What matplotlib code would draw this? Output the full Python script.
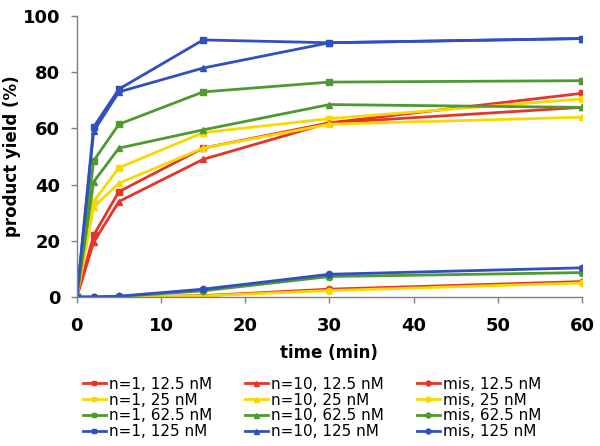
import numpy as np
import matplotlib.pyplot as plt

plt.rcParams['font.family'] = ['DejaVu Sans']

zeit = [0, 2, 5, 15, 30, 60]

konz = ["12.5 nM", "25 nM", "62.5 nM", "125 nM"]
farben = ["#e8332b", "#f7d900", "#4c9a30", "#3050c0"]

# n=1 (Quadrate)
n1 = [
    [0, 22.0, 37.5, 53.0, 62.0, 72.5],
    [0, 34.0, 46.0, 58.5, 63.5, 70.5],
    [0, 48.5, 61.5, 73.0, 76.5, 77.0],
    [0, 60.5, 74.0, 91.5, 90.5, 92.0],
]

# n=10 (Dreiecke)
n10 = [
    [0, 19.5, 34.0, 49.0, 62.0, 67.5],
    [0, 32.0, 40.5, 53.0, 61.5, 64.0],
    [0, 41.0, 53.0, 59.5, 68.5, 67.5],
    [0, 59.0, 73.0, 81.5, 90.5, 92.0],
]

# mis (Kreise)
mis = [
    [0, 0, 0, 0.5, 2.8, 5.5],
    [0, 0, 0, 0.4, 2.3, 5.0],
    [0, 0, 0.2, 2.2, 7.3, 8.7],
    [0, 0, 0.3, 2.8, 8.1, 10.4],
]

fig = plt.figure(figsize=(6, 4.46), dpi=100)
ax = fig.add_axes([0.128, 0.334, 0.842, 0.63])

gruppen = [("n=1", n1, "s", 4), ("n=10", n10, "^", 4.5), ("mis", mis, "o", 4.5)]

linien = []
for name, daten, marker, ms in gruppen:
    for i in range(4):
        l, = ax.plot(zeit, daten[i], marker=marker, markersize=ms,
                     color=farben[i], linewidth=2,
                     label=f"{name}, {konz[i]}")
        linien.append(l)

ax.set_xlim(0, 60)
ax.set_ylim(0, 100)
ax.set_xticks(range(0, 61, 10))
ax.set_yticks(range(0, 101, 20))

for s in ["top", "right"]:
    ax.spines[s].set_visible(False)
for s in ["left", "bottom"]:
    ax.spines[s].set_color("#808080")
    ax.spines[s].set_linewidth(1)
ax.tick_params(color="#808080", length=4.5, width=1, labelsize=13)
ax.tick_params(axis="x", pad=10)
ax.tick_params(axis="y", pad=7.5)
for t in ax.get_xticklabels() + ax.get_yticklabels():
    t.set_fontweight("bold")

ax.set_xlabel("time (min)", fontsize=12, fontweight="bold", labelpad=6)
ax.set_ylabel("product yield (%)", fontsize=12, fontweight="bold")
ax.yaxis.set_label_coords(-0.128, 0.5)
ax.yaxis.label.set_verticalalignment("center")

fig.legend(handles=linien, ncol=3, loc="upper left",
           bbox_to_anchor=(0.128, 0.169), fontsize=11,
           frameon=False, handlelength=1.5, handletextpad=0.2,
           columnspacing=2.15, labelspacing=0.05, borderaxespad=0,
           markerscale=0.8)

fig.savefig("out.png", dpi=100)
